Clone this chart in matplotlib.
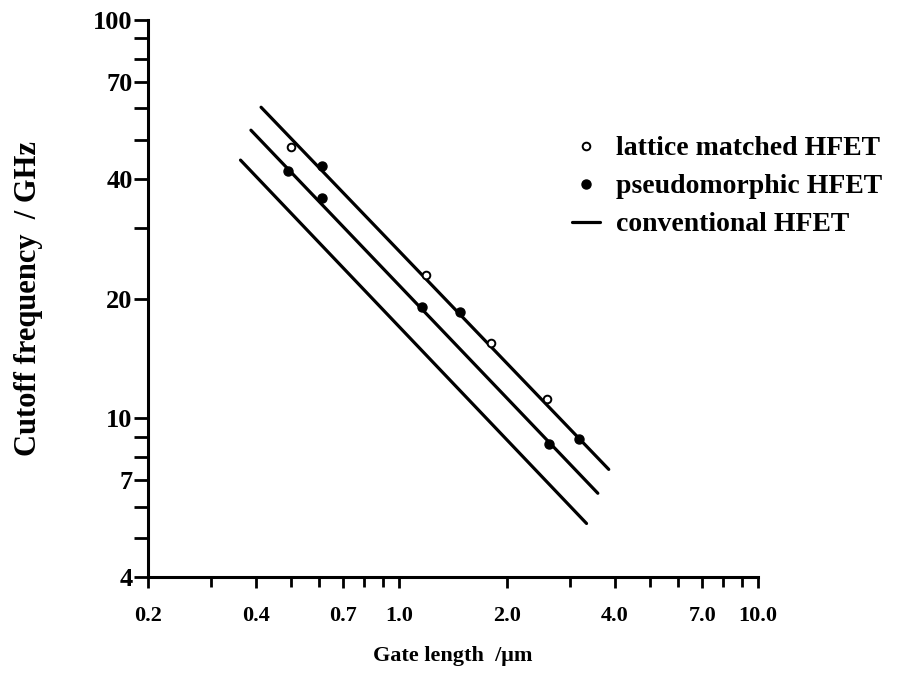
import matplotlib
matplotlib.use("Agg")
import matplotlib.pyplot as plt
from matplotlib.ticker import FixedLocator, NullFormatter

# data (gate length in um, cutoff frequency in GHz)
lattice_L = [0.50, 1.19, 1.81, 2.58]
lattice_f = [48.0, 22.9, 15.5, 11.2]

pseudo_L = [0.49, 0.61, 0.61, 1.16, 1.48, 2.62, 3.18]
pseudo_f = [41.8, 43.0, 35.7, 19.0, 18.5, 8.65, 8.9]

# three straight trend lines (start, end)
line_L = [[0.413, 3.84], [0.387, 3.58], [0.362, 3.33]]
line_f = [[60.4, 7.45], [52.9, 6.49], [44.5, 5.45]]

xticks = [0.2, 0.4, 0.7, 1.0, 2.0, 4.0, 7.0, 10.0]
xtick_labels = ['0.2', '0.4', '0.7', '1.0', '2.0', '4.0', '7.0', '10.0']
xminor = [0.3, 0.5, 0.6, 0.8, 0.9, 3.0, 5.0, 6.0, 8.0, 9.0]
yticks = [4, 7, 10, 20, 40, 70, 100]
yminor = [5, 6, 8, 9, 30, 50, 60, 80, 90]

plt.rcParams['font.family'] = ['Liberation Serif', 'DejaVu Serif']
plt.rcParams['font.weight'] = 'bold'
plt.rcParams['axes.labelweight'] = 'bold'

fig = plt.figure(figsize=(9.12, 6.91), dpi=100)
ax = fig.add_axes([148 / 912, 114 / 691, 610 / 912, 557 / 691])

for xs, ys in zip(line_L, line_f):
    ln, = ax.plot(xs, ys, color='black', lw=2.3, solid_capstyle='round')

lat, = ax.plot(lattice_L, lattice_f, 'o', ms=5.5, mfc='white', mec='black', mew=1.4, ls='none')
pse, = ax.plot(pseudo_L, pseudo_f, 'o', ms=6.5, color='black', ls='none')

ax.set_xscale('log')
ax.set_yscale('log')
ax.set_xlim(0.2, 10)
ax.set_ylim(4, 100)

ax.xaxis.set_major_locator(FixedLocator(xticks))
ax.xaxis.set_minor_locator(FixedLocator(xminor))
ax.xaxis.set_minor_formatter(NullFormatter())
ax.set_xticklabels(xtick_labels)
ax.yaxis.set_major_locator(FixedLocator(yticks))
ax.yaxis.set_minor_locator(FixedLocator(yminor))
ax.yaxis.set_minor_formatter(NullFormatter())
ax.set_yticklabels([str(t) for t in yticks])

ax.spines['top'].set_visible(False)
ax.spines['right'].set_visible(False)
for s in ['left', 'bottom']:
    ax.spines[s].set_linewidth(2.2)

ax.tick_params(axis='both', which='both', direction='out', width=2, color='black')
ax.tick_params(axis='y', which='major', length=10, labelsize=19, pad=1)
ax.tick_params(axis='y', which='minor', length=10)
ax.tick_params(axis='x', which='major', length=8, labelsize=16, pad=13)
ax.tick_params(axis='x', which='minor', length=7)

ax.set_xlabel('Gate length  /\u03bcm', fontsize=16, labelpad=14)
ax.set_ylabel('Cutoff frequency  / GHz', fontsize=22, labelpad=36)

leg = ax.legend([lat, pse, ln], ['lattice matched HFET', 'pseudomorphic HFET', 'conventional HFET'],
                loc='upper left', bbox_to_anchor=(558 / 912, 1 - 122 / 691),
                bbox_transform=fig.transFigure, frameon=False, fontsize=20,
                handlelength=1.0, handletextpad=0.6, labelspacing=0.45, borderpad=0)

fig.savefig('out.png', dpi=100)
